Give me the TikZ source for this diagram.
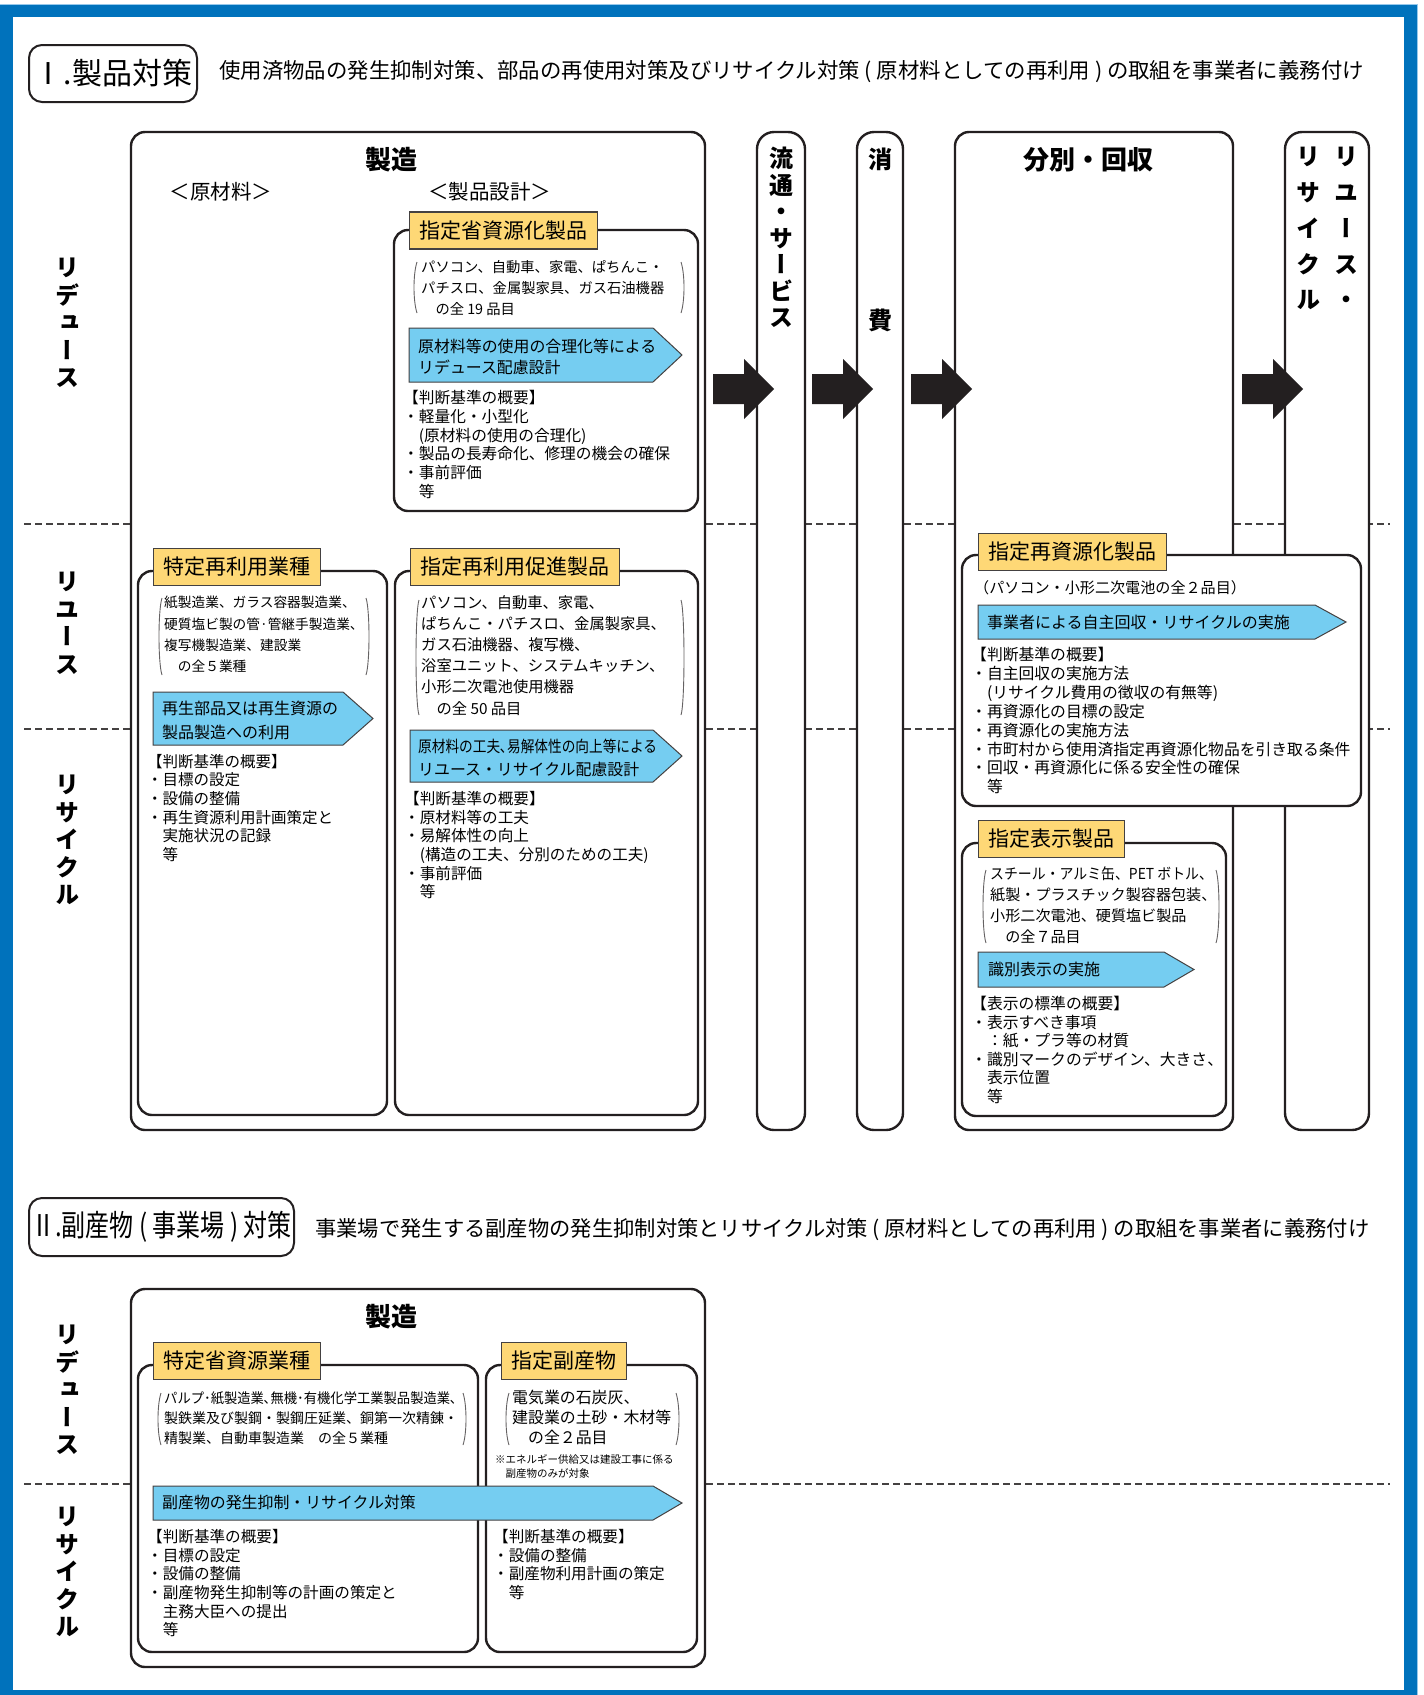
\documentclass[tikz,border=0pt]{standalone}
\usepackage{fontspec}
\usepackage{graphicx}
\setmainfont{Noto Sans CJK JP}
\newfontfamily\vjp[RawFeature=+vert]{Noto Sans CJK JP}
\definecolor{frameblue}{RGB}{0,114,188}
\definecolor{edgeblue}{RGB}{150,200,235}
\definecolor{ink}{RGB}{35,31,32}
\definecolor{tagyellow}{RGB}{254,216,118}
\definecolor{arrowblue}{RGB}{117,205,241}
\newcommand\fs[2]{\fontsize{#1}{#2}\selectfont}
% thin round brackets around the item lists
\newcommand\parens[4]{%
  \draw[paren] (#1+3,#3) .. controls (#1-1,#3+12) and (#1-1,#4-12) .. (#1+3,#4);
  \draw[paren] (#2-3,#3) .. controls (#2+1,#3+12) and (#2+1,#4-12) .. (#2-3,#4);}
% blue pointed bar: left, top, head start, tip, bottom
\newcommand\bluearrow[5]{%
  \draw[barrow] (#1,#2) -- (#3,#2) -- (#4,{(#2+#5)/2}) -- (#3,#5) -- (#1,#5) -- cycle;}
% black block arrow between the columns
\newcommand\bigarrow[1]{%
  \fill[ink] (#1,374) -- (#1+31,374) -- (#1+31,359) -- (#1+61,389) -- (#1+31,419) -- (#1+31,404) -- (#1,404) -- cycle;}
\begin{document}
\begin{tikzpicture}[x=1pt, y=-1pt,
  box/.style={draw=ink, line width=2.4, rounded corners=14, fill=white},
  colbox/.style={draw=ink, line width=2.4, rounded corners=17, fill=white},
  hdrbox/.style={draw=ink, line width=2, rounded corners=13, inner sep=0, font=\fs{30}{30}},
  tag/.style={draw=ink!85, line width=1.3, fill=tagyellow, inner xsep=10, inner ysep=0, minimum height=37, anchor=west, font=\fs{21}{21}},
  barrow/.style={draw=ink!85, line width=1, fill=arrowblue},
  paren/.style={draw=ink!70, line width=0.9},
  sep line/.style={draw=ink!85, line width=1.2, dash pattern=on 7pt off 4pt},
  txt/.style={inner sep=0, anchor=north west, align=left},
  boxtitle/.style={inner sep=0, font=\bfseries\fs{26}{26}},
  vlab/.style={inner sep=0, anchor=north, align=center, font=\vjp\bfseries\fs{24}{27.5}}
]
\useasboundingbox (0,0) rectangle (1424,1695);
% frame
\fill[frameblue] (0,5) rectangle (1417,1695);
\fill[white] (13,17) rectangle (1404,1690);
\draw[edgeblue, line width=1] (0,4.5) -- (1417.5,4.5) -- (1417.5,1695);

% I. header
\node[hdrbox, minimum width=168, minimum height=57] (hdrI) at (113,73.5) {Ⅰ.製品対策};
\node[inner sep=0, anchor=west, font=\fs{21.4}{21.4}] (descI) at (219,72)
  {使用済物品の発生抑制対策、部品の再使用対策及びリサイクル対策 ( 原材料としての再利用 ) の取組を事業者に義務付け};

% row separators
\draw[sep line] (24,524) -- (1390,524);
\draw[sep line] (24,729) -- (1390,729);
\draw[sep line] (24,1484) -- (1390,1484);

% row labels
\node[vlab] (reduceI) at (67,258) {リ\\デ\\ュ\\ー\\ス};
\node[vlab] (reuseI) at (67,572) {リ\\ユ\\ー\\ス};
\node[vlab] (recycleI) at (67,775) {リ\\サ\\イ\\ク\\ル};
\node[vlab] (reduceII) at (67,1325) {リ\\デ\\ュ\\ー\\ス};
\node[vlab] (recycleII) at (67,1507) {リ\\サ\\イ\\ク\\ル};

% columns
\draw[box] (131,132) rectangle (705,1130);
\draw[colbox] (757,132) rectangle (805,1130);
\draw[colbox] (857,132) rectangle (903,1130);
\draw[box] (955,132) rectangle (1233,1130);
\draw[colbox] (1285,132) rectangle (1369,1130);
\node[boxtitle] (makeI) at (391,160) {製造};
\node[inner sep=0, font=\fs{20.5}{20.5}] (rawmat) at (221,192) {＜原材料＞};
\node[inner sep=0, font=\fs{20.5}{20.5}] (design) at (489.5,192) {＜製品設計＞};
\node[vlab, font=\vjp\bfseries\fs{24}{26.5}] (distrib) at (781,147) {流\\通\\・\\サ\\ー\\ビ\\ス};
\node[vlab] (consumeA) at (880,148) {消};
\node[vlab] (consumeB) at (880,309) {費};
\node[boxtitle] (collect) at (1088,160) {分別・回収};
\node[vlab, font=\vjp\bfseries\fs{24}{35.75}] (reuseR) at (1346,147) {リ\\ユ\\ー\\ス\\・};
\node[vlab, font=\vjp\bfseries\fs{24}{35.75}] (recycleR) at (1308,147) {リ\\サ\\イ\\ク\\ル};
\bigarrow{713}
\bigarrow{812}
\bigarrow{911}
\bigarrow{1242}

% 指定省資源化製品
\draw[box] (394,230) rectangle (698,511);
\node[tag] (tagA) at (409,230.5) {指定省資源化製品};
\parens{414}{684}{262}{313}
\node[txt, font=\fs{14.3}{21}] (listA) at (421,260)
  {パソコン、自動車、家電、ぱちんこ・\\パチスロ、金属製家具、ガス石油機器\\　の全 19 品目};
\bluearrow{409}{328}{653}{682}{382}
\node[txt, font=\fs{15.9}{21}] (arrA) at (418,339) {原材料等の使用の合理化等による\\リデュース配慮設計};
\node[txt, font=\fs{15.7}{18.8}] (critA) at (403,390)
  {【判断基準の概要】\\・軽量化・小型化\\　(原材料の使用の合理化)\\・製品の長寿命化、修理の機会の確保\\・事前評価\\　等};

% 特定再利用業種
\draw[box] (138,571) rectangle (387,1115);
\node[tag] (tagB) at (153,567) {特定再利用業種};
\parens{159}{369}{598}{675}
\node[txt, font=\fs{13.7}{21.3}] (listB) at (164,596)
  {紙製造業、ガラス容器製造業、\\硬質塩ビ製の管·管継手製造業、\\複写機製造業、建設業\\　の全５業種};
\bluearrow{153}{692}{343}{373}{745}
\node[txt, font=\fs{16}{24}] (arrB) at (162,701) {再生部品又は再生資源の\\製品製造への利用};
\node[txt, font=\fs{15.5}{18.6}] (critB) at (147,754)
  {【判断基準の概要】\\・目標の設定\\・設備の整備\\・再生資源利用計画策定と\\　実施状況の記録\\　等};

% 指定再利用促進製品
\draw[box] (395,571) rectangle (698,1115);
\node[tag] (tagC) at (410,567) {指定再利用促進製品};
\parens{416}{684}{600}{715}
\node[txt, font=\fs{15.3}{21.2}] (listC) at (421,595)
  {パソコン、自動車、家電、\\ぱちんこ・パチスロ、金属製家具、\\ガス石油機器、複写機、\\浴室ユニット、システムキッチン、\\小形二次電池使用機器\\　の全 50 品目};
\bluearrow{410}{730}{653}{682}{782}
\node[txt, font=\fs{15.9}{23}] (arrC) at (418,739)
  {\scalebox{0.86}[1]{原材料の工夫､易解体性の向上等による}\\リユース・リサイクル配慮設計};
\node[txt, font=\fs{15.6}{18.7}] (critC) at (404,791)
  {【判断基準の概要】\\・原材料等の工夫\\・易解体性の向上\\　(構造の工夫、分別のための工夫)\\・事前評価\\　等};

% 指定再資源化製品
\draw[box] (962,555) rectangle (1361,806);
\node[tag] (tagD) at (978,552) {指定再資源化製品};
\node[txt, font=\fs{15.1}{15.1}] (listD) at (974,580) {（パソコン・小形二次電池の全２品目）};
\bluearrow{978}{605}{1315}{1346}{639}
\node[txt, font=\fs{16}{16}] (arrD) at (987,615) {事業者による自主回収・リサイクルの実施};
\node[txt, font=\fs{15.8}{18.9}] (critD) at (971,647)
  {【判断基準の概要】\\・自主回収の実施方法\\　(リサイクル費用の徴収の有無等)\\・再資源化の目標の設定\\・再資源化の実施方法\\・市町村から使用済指定再資源化物品を引き取る条件\\・回収・再資源化に係る安全性の確保\\　等};

% 指定表示製品
\draw[box] (962,843) rectangle (1226,1116);
\node[tag] (tagE) at (978,839) {指定表示製品};
\parens{983}{1219}{870}{943}
\node[txt, font=\fs{15.1}{21}] (listE) at (990,867)
  {\scalebox{0.92}[1]{スチール・アルミ缶、PET ボトル、}\\紙製・プラスチック製容器包装、\\小形二次電池、硬質塩ビ製品\\　の全７品目};
\bluearrow{978}{952}{1164}{1194}{987}
\node[txt, font=\fs{16}{16}] (arrE) at (988,962) {識別表示の実施};
\node[txt, font=\fs{15.8}{18.6}] (critE) at (971,996)
  {【表示の標準の概要】\\・表示すべき事項\\　：紙・プラ等の材質\\・識別マークのデザイン、大きさ、\\　表示位置\\　等};

% II. header
\node[hdrbox, minimum width=265, minimum height=58] (hdrII) at (161.5,1227)
  {\scalebox{0.8}[1]{Ⅱ.副産物 ( 事業場 ) 対策}};
\node[inner sep=0, anchor=west, font=\fs{21.3}{21.3}] (descII) at (315,1230)
  {事業場で発生する副産物の発生抑制対策とリサイクル対策 ( 原材料としての再利用 ) の取組を事業者に義務付け};

% II. 製造
\draw[box] (131,1289) rectangle (705,1667);
\node[boxtitle] (makeII) at (391,1317) {製造};
\draw[box] (138,1365) rectangle (478,1652);
\node[tag] (tagF) at (153,1361) {特定省資源業種};
\parens{158}{466}{1393}{1445}
\node[txt, font=\fs{14}{20}] (listF) at (164,1391)
  {\scalebox{0.95}[1]{パルプ･紙製造業､無機･有機化学工業製品製造業､}\\製鉄業及び製鋼・製鋼圧延業、銅第一次精錬・\\精製業、自動車製造業　の全５業種};
\draw[box] (486,1365) rectangle (697,1652);
\node[tag] (tagG) at (501,1361) {指定副産物};
\parens{506}{679}{1393}{1445}
\node[txt, font=\fs{15.9}{20}] (listG) at (512,1390) {電気業の石炭灰、\\建設業の土砂・木材等\\　の全２品目};
\node[txt, font=\fs{10.5}{14}] (noteG) at (495,1454) {※エネルギー供給又は建設工事に係る\\　副産物のみが対象};
\bluearrow{153}{1486}{653}{682}{1520}
\node[txt, font=\fs{15.9}{15.9}] (arrF) at (162,1495) {副産物の発生抑制・リサイクル対策};
\node[txt, font=\fs{15.6}{18.7}] (critF) at (147,1529)
  {【判断基準の概要】\\・目標の設定\\・設備の整備\\・副産物発生抑制等の計画の策定と\\　主務大臣への提出\\　等};
\node[txt, font=\fs{15.6}{18.7}] (critG) at (493,1529)
  {【判断基準の概要】\\・設備の整備\\・副産物利用計画の策定\\　等};
\end{tikzpicture}
\end{document}
